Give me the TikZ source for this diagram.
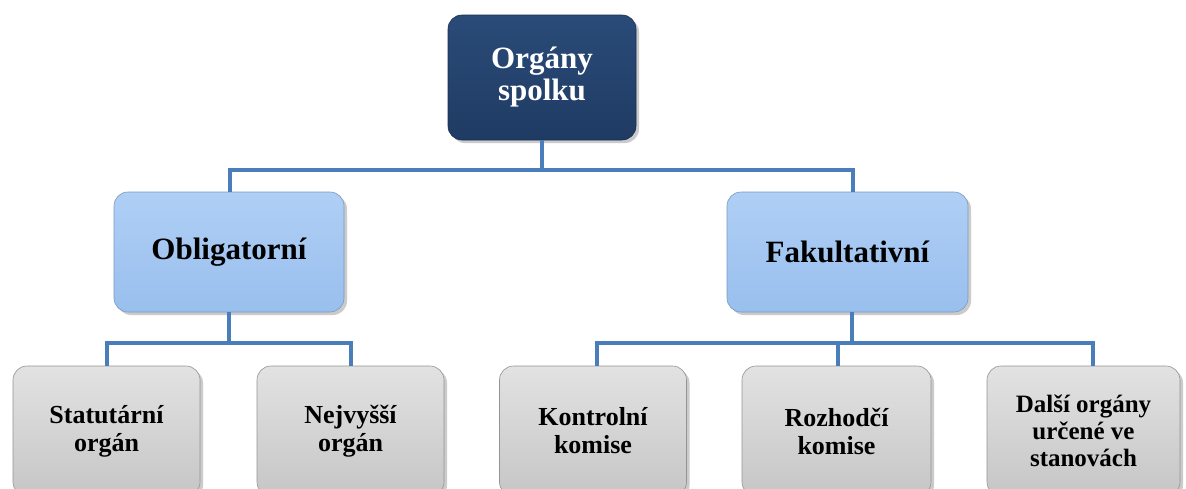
\documentclass[tikz,border=0pt]{standalone}
\usepackage{fontspec}
\setmainfont{Liberation Serif}[BoldFont={Liberation Serif Bold}]
\newfontfamily\boxfont{Liberation Serif Bold}
\usetikzlibrary{shadows}
\definecolor{navy}{HTML}{1F3B63}
\definecolor{navytop}{HTML}{2A4B78}
\definecolor{midblue}{HTML}{99BFEE}
\definecolor{midbluetop}{HTML}{AFCFF5}
\definecolor{grayb}{HTML}{C6C6C6}
\definecolor{graytop}{HTML}{E2E2E2}
\definecolor{linkblue}{HTML}{4A7EBB}
\tikzset{
  box/.style={rounded corners=14pt, inner sep=0pt, align=center,
    drop shadow={shadow xshift=3pt, shadow yshift=-3pt, fill=black!45, opacity=0.45}},
  topbox/.style={box, top color=navytop, bottom color=navy, draw=navy!80!black, line width=0.6pt,
    minimum width=188pt, minimum height=125pt, text=white,
    font=\boxfont\fontsize{31}{32}\selectfont},
  midbox/.style={box, top color=midbluetop, bottom color=midblue, draw=midblue!80!black, line width=0.6pt,
    minimum width=230pt, minimum height=120pt,
    font=\boxfont\fontsize{31}{32}\selectfont},
  lowbox/.style={box, top color=graytop, bottom color=grayb, draw=grayb!75!black, line width=0.6pt,
    minimum width=187pt, minimum height=130pt,
    font=\boxfont\fontsize{26}{28}\selectfont},
  link/.style={draw=linkblue, line width=4pt}
}
\begin{document}
\begin{tikzpicture}[x=1pt,y=-1pt]
\useasboundingbox (0,0) rectangle (1186,488);
\clip (0,0) rectangle (1186,488);
\fill[white] (0,0) rectangle (1186,488);
% connector coordinates
\coordinate (t1) at (542,170);
\coordinate (tl) at (230,170);
\coordinate (tr) at (853,170);
\coordinate (o1) at (229,343);
\coordinate (ol) at (107,343);
\coordinate (orr) at (351,343);
\coordinate (f1) at (852,343);
\coordinate (fl) at (597,343);
\coordinate (fm) at (838,343);
\coordinate (fr) at (1093,343);
% nodes
\node[topbox] (top) at (542,77.5) {Orgány\\spolku};
\node[midbox] (obl) at (229,252) {Obligatorní};
\node[midbox, minimum width=241pt] (fak) at (847.5,252) {Fakultativní};
\node[lowbox] (stat) at (106.5,431) {Statutární\\orgán};
\node[lowbox] (nejv) at (350.5,431) {Nejvyšší\\orgán};
\node[lowbox] (kont) at (593,431) {Kontrolní\\komise};
\node[lowbox, minimum width=189pt] (rozh) at (836.5,431) {Rozhodčí\\komise};
\node[lowbox, minimum width=193pt, font=\boxfont\fontsize{25}{27}\selectfont] (dal) at (1083.5,431) {Další orgány\\určené ve\\stanovách};
% connectors
\draw[link] (top.south) -- (t1);
\draw[link] (obl.north -| tl) -- (tl) -- (tr) -- (fak.north -| tr);
\draw[link] (obl.south) -- (o1);
\draw[link] (stat.north -| ol) -- (ol) -- (orr) -- (nejv.north -| orr);
\draw[link] (fak.south -| f1) -- (f1);
\draw[link] (kont.north -| fl) -- (fl) -- (fr) -- (dal.north -| fr);
\draw[link] (fm) -- (rozh.north -| fm);
\end{tikzpicture}
\end{document}
